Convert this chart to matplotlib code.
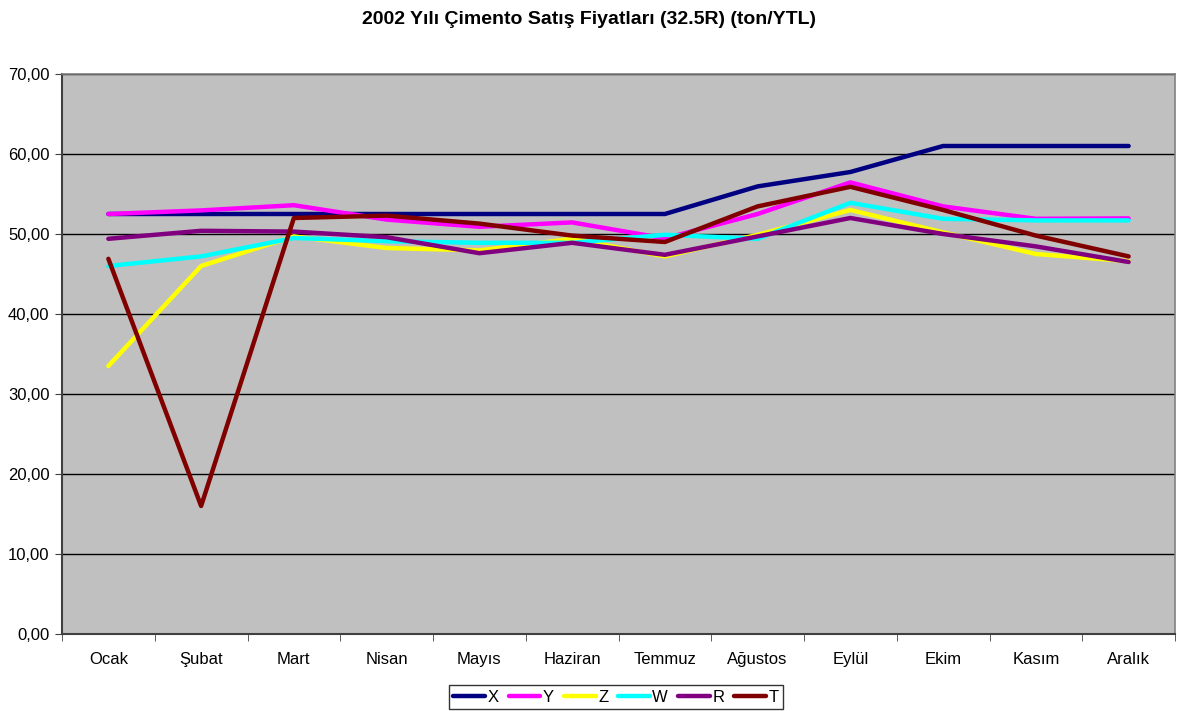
import matplotlib.pyplot as plt
import numpy as np

plt.rcParams['font.family'] = ['Liberation Sans', 'DejaVu Sans']

months = ['Ocak', 'Şubat', 'Mart', 'Nisan', 'Mayıs', 'Haziran',
          'Temmuz', 'Ağustos', 'Eylül', 'Ekim', 'Kasım', 'Aralık']

x_vals = [52.5, 52.5, 52.5, 52.5, 52.5, 52.5, 52.5, 55.95, 57.75, 61.0, 61.0, 61.0]
y_vals = [52.5, 52.95, 53.6, 51.8, 50.9, 51.45, 49.45, 52.5, 56.45, 53.45, 51.9, 51.95]
z_vals = [33.5, 46.0, 49.7, 48.25, 47.95, 49.4, 47.2, 49.9, 53.0, 50.2, 47.5, 46.6]
w_vals = [46.0, 47.2, 49.5, 49.1, 48.9, 48.9, 49.9, 49.4, 53.9, 51.9, 51.7, 51.7]
r_vals = [49.4, 50.4, 50.3, 49.6, 47.6, 48.9, 47.4, 49.7, 52.0, 50.0, 48.45, 46.5]
t_vals = [46.9, 16.0, 52.0, 52.3, 51.3, 49.8, 49.0, 53.45, 55.9, 53.0, 49.8, 47.2]

series = [('X', x_vals, '#000080'), ('Y', y_vals, '#FF00FF'), ('Z', z_vals, '#FFFF00'),
          ('W', w_vals, '#00FFFF'), ('R', r_vals, '#800080'), ('T', t_vals, '#800000')]

fig = plt.figure(figsize=(11.77, 7.11), dpi=100)
ax = fig.add_axes([62 / 1177, 77 / 711, 1113 / 1177, 560 / 711])
ax.set_facecolor('#C0C0C0')

pos = np.arange(len(months))
for name, vals, col in series:
    ax.plot(pos, vals, color=col, lw=3.2, label=name, solid_capstyle='round')

ax.set_xlim(-0.5, len(months) - 0.5)
ax.set_ylim(0, 70)
ax.set_yticks(np.arange(0, 71, 10))
ax.set_yticklabels(['%d,00' % v for v in range(0, 71, 10)])
ax.yaxis.grid(True, color='black', lw=1)
ax.set_axisbelow(True)

ax.set_xticks(pos)
ax.set_xticklabels(months)
ax.tick_params(axis='x', length=0, pad=13)
ax.set_xticks(np.arange(-0.5, len(months), 1), minor=True)
ax.tick_params(axis='x', which='minor', length=5, color='#404040')
ax.tick_params(axis='y', length=5, color='#404040', pad=4)
ax.tick_params(labelsize=12)

for s in ['top', 'right']:
    ax.spines[s].set_color('#808080')
    ax.spines[s].set_linewidth(1.2)
for s in ['left', 'bottom']:
    ax.spines[s].set_color('#404040')
    ax.spines[s].set_linewidth(1.5)

fig.suptitle('2002 Yılı Çimento Satış Fiyatları (32.5R) (ton/YTL)',
             fontsize=14, fontweight='bold', y=0.985)

leg = fig.legend(loc='center', bbox_to_anchor=(616 / 1177, 1 - 697 / 711), ncol=6,
                 fontsize=12, frameon=True, fancybox=False, edgecolor='black',
                 handlelength=1.9, handletextpad=0.15, columnspacing=0.6,
                 borderpad=0.25)
leg.get_frame().set_linewidth(1)

fig.savefig('out.png', dpi=100)
